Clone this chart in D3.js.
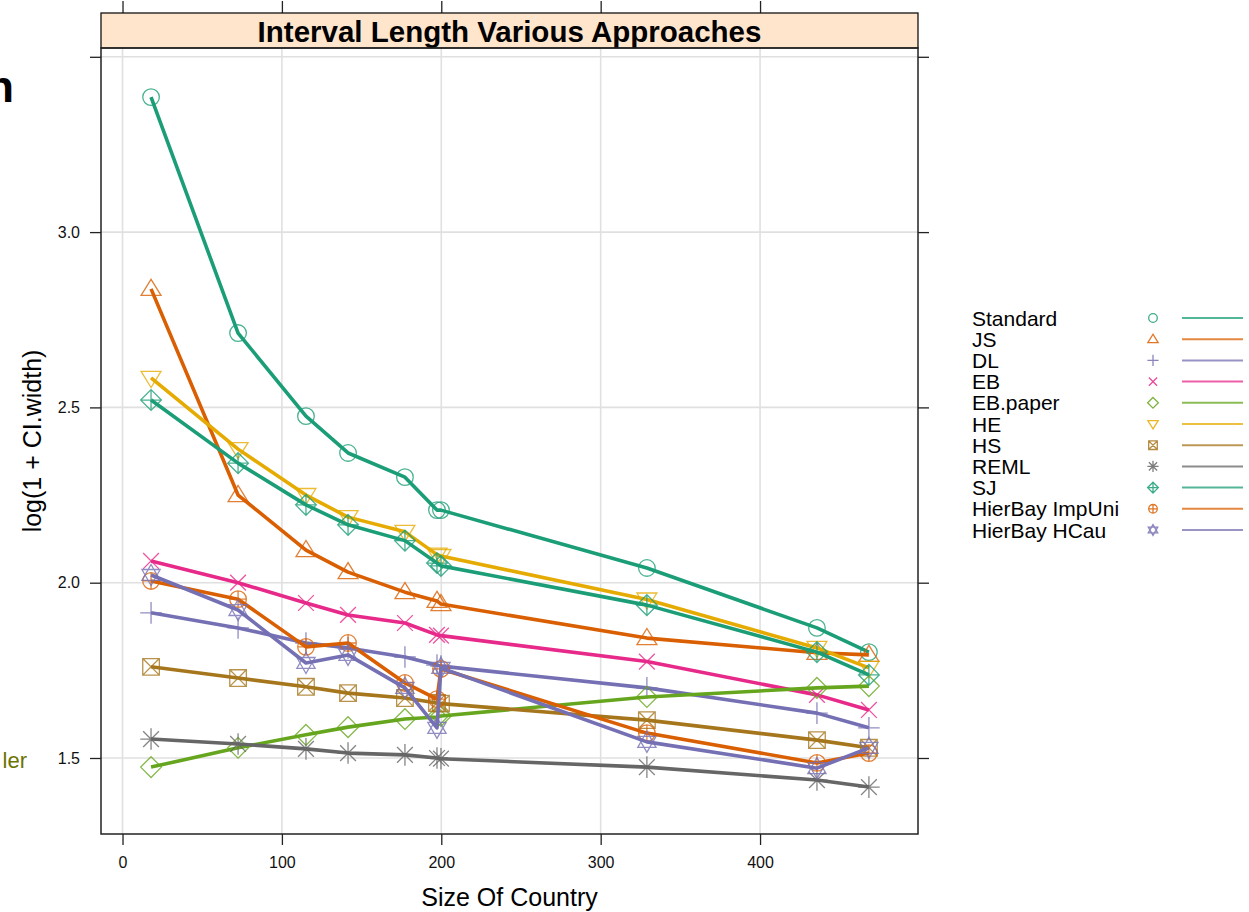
<!DOCTYPE html>
<html>
<head>
<meta charset="utf-8">
<script src="https://cdn.jsdelivr.net/npm/d3@7"></script>
<style>
  html, body { margin: 0; padding: 0; background: #ffffff; overflow: hidden; }
  svg { display: block; font-family: "Liberation Sans", Arial, Helvetica, sans-serif; }
</style>
</head>
<body>
<svg id="chart" width="1249" height="912"></svg>
<script>
// Country sizes (x) and interval lengths per method (y)
const countrySize = [17.9, 72.5, 115.1, 141.5, 177.2, 197.3, 199.8, 329.0, 435.7, 468.3];

const seriesNames = ["Standard", "JS", "DL", "EB", "EB.paper", "HE", "HS", "REML", "SJ", "HierBay ImpUni", "HierBay HCau"];

const standard  = [3.385, 2.712, 2.475, 2.370, 2.301, 2.207, 2.207, 2.042, 1.871, 1.802];
const js        = [2.838, 2.250, 2.093, 2.030, 1.973, 1.948, 1.939, 1.842, 1.800, 1.794];
const dl        = [1.914, 1.871, 1.828, 1.814, 1.788, 1.765, 1.762, 1.700, 1.628, 1.586];
const eb        = [2.062, 2.000, 1.942, 1.908, 1.885, 1.851, 1.849, 1.775, 1.680, 1.637];
const ebPaper   = [1.474, 1.529, 1.566, 1.588, 1.611, 1.617, 1.620, 1.674, 1.700, 1.705];
const he        = [2.584, 2.381, 2.250, 2.187, 2.145, 2.080, 2.076, 1.952, 1.814, 1.757];
const hs        = [1.760, 1.728, 1.703, 1.685, 1.671, 1.657, 1.655, 1.608, 1.551, 1.529];
const reml      = [1.554, 1.540, 1.526, 1.514, 1.509, 1.500, 1.498, 1.474, 1.437, 1.417];
const sj        = [2.521, 2.341, 2.222, 2.165, 2.120, 2.056, 2.048, 1.936, 1.802, 1.737];
const hbImpUni  = [2.005, 1.953, 1.817, 1.828, 1.714, 1.668, 1.754, 1.571, 1.486, 1.514];
const hbHCau    = [2.022, 1.922, 1.771, 1.794, 1.700, 1.586, 1.757, 1.546, 1.471, 1.529];

const seriesValues = [standard, js, dl, eb, ebPaper, he, hs, reml, sj, hbImpUni, hbHCau];
const seriesSymbols = ["circle", "triUp", "plus", "cross", "diamond", "triDown", "boxX", "asterisk", "diamondPlus", "circlePlus", "star"];
const seriesColors = ["#1B9E77", "#D95F02", "#7570B3", "#E7298A", "#66A61E", "#E6AB02", "#A6761D", "#666666", "#1B9E77", "#D95F02", "#7570B3"];

const xTicks = [0, 100, 200, 300, 400];
const yTicks = [1.5, 2.0, 2.5, 3.0, 3.5];
const yTickLabels = ["1.5", "2.0", "2.5", "3.0", ""];

const titleText = "Interval Length Various Approaches";
const xTitle = "Size Of Country";
const yTitle = "log(1 + CI.width)";

// ---- layout ----
const panel = { left: 101, right: 918, stripTop: 13, top: 48, bottom: 834 };

const x = d3.scaleLinear().domain([-13.5, 499.1]).range([panel.left, panel.right]);
const y = d3.scaleLinear().domain([1.2832, 3.5251]).range([panel.bottom, panel.top]);

const svg = d3.select("#chart");

// fragments of surrounding page text
svg.append("text").attr("x", 14).attr("y", 102).attr("text-anchor", "end")
  .attr("font-size", 45).attr("font-weight", "bold").attr("fill", "#000").text("n");
svg.append("text").attr("x", 27).attr("y", 768).attr("text-anchor", "end")
  .attr("font-size", 22).attr("fill", "#6b7400").text("ler");

// ---- gridlines ----
const grid = svg.append("g").attr("stroke", "#e0e0e0").attr("stroke-width", 1.6);
grid.selectAll("line.v").data(xTicks).join("line")
  .attr("x1", d => x(d)).attr("x2", d => x(d))
  .attr("y1", panel.top).attr("y2", panel.bottom);
grid.selectAll("line.h").data(yTicks).join("line")
  .attr("x1", panel.left).attr("x2", panel.right)
  .attr("y1", d => y(d)).attr("y2", d => y(d));

// ---- axes ----
const axisStyle = g => {
  g.select(".domain").remove();
  g.selectAll(".tick line").attr("stroke", "#222").attr("stroke-width", 1.3);
  g.selectAll(".tick text").attr("fill", "#111").attr("font-size", 16)
    .attr("font-family", "'Liberation Sans', Arial, sans-serif");
};

svg.append("g").attr("transform", `translate(0,${panel.bottom})`)
  .call(d3.axisBottom(x).tickValues(xTicks).tickSize(11).tickPadding(12).tickFormat(d3.format("d")))
  .call(axisStyle);

svg.append("g").attr("transform", `translate(0,${panel.stripTop})`)
  .call(d3.axisTop(x).tickValues(xTicks).tickSize(12).tickFormat(""))
  .call(axisStyle);

svg.append("g").attr("transform", `translate(${panel.left},0)`)
  .call(d3.axisLeft(y).tickValues(yTicks).tickSize(11).tickPadding(10)
    .tickFormat((d, i) => yTickLabels[i]))
  .call(axisStyle);

svg.append("g").attr("transform", `translate(${panel.right},0)`)
  .call(d3.axisRight(y).tickValues(yTicks).tickSize(11).tickFormat(""))
  .call(axisStyle);

// ---- symbols ----
function symbolPath(type, s) {
  const p = d3.path();
  const tri = (dir) => {
    const h = s * 1.05;
    p.moveTo(0, -dir * h * 1.1);
    p.lineTo(-s * 1.2, dir * h * 0.75);
    p.lineTo(s * 1.2, dir * h * 0.75);
    p.closePath();
  };
  const diamond = () => {
    const d = s * 1.25;
    p.moveTo(0, -d); p.lineTo(d, 0); p.lineTo(0, d); p.lineTo(-d, 0); p.closePath();
  };
  const plus = (k) => { p.moveTo(-k, 0); p.lineTo(k, 0); p.moveTo(0, -k); p.lineTo(0, k); };
  const cross = (k) => { p.moveTo(-k, -k); p.lineTo(k, k); p.moveTo(-k, k); p.lineTo(k, -k); };
  switch (type) {
    case "circle": p.moveTo(s, 0); p.arc(0, 0, s, 0, 2 * Math.PI); break;
    case "triUp": tri(1); break;
    case "triDown": tri(-1); break;
    case "plus": plus(s * 1.3); break;
    case "cross": cross(s * 0.95); break;
    case "diamond": diamond(); break;
    case "boxX": p.rect(-s, -s, 2 * s, 2 * s); cross(s); break;
    case "asterisk": plus(s * 1.3); cross(s * 0.95); break;
    case "diamondPlus": diamond(); plus(s * 1.25); break;
    case "circlePlus": p.moveTo(s, 0); p.arc(0, 0, s, 0, 2 * Math.PI); plus(s); break;
    case "star": {
      const h = s * 1.1;
      p.moveTo(0, -h * 1.15); p.lineTo(-s * 1.1, h * 0.6); p.lineTo(s * 1.1, h * 0.6); p.closePath();
      p.moveTo(0, h * 1.15); p.lineTo(-s * 1.1, -h * 0.6); p.lineTo(s * 1.1, -h * 0.6); p.closePath();
      break;
    }
  }
  return p.toString();
}

// ---- series: points then connecting line ----
const plotG = svg.append("g");
const line = d3.line().x(d => x(d[0])).y(d => y(d[1]));

seriesNames.forEach((name, i) => {
  const pts = countrySize.map((c, j) => [c, seriesValues[i][j]]);
  const g = plotG.append("g");
  g.selectAll("path.pt").data(pts).join("path")
    .attr("transform", d => `translate(${x(d[0])},${y(d[1])})`)
    .attr("d", symbolPath(seriesSymbols[i], 8.3))
    .attr("fill", "none")
    .attr("stroke", seriesColors[i])
    .attr("stroke-opacity", 0.8)
    .attr("stroke-width", 1.3);
  g.append("path").datum(pts)
    .attr("d", line)
    .attr("fill", "none")
    .attr("stroke", seriesColors[i])
    .attr("stroke-width", 3.6)
    .attr("stroke-linejoin", "round");
});

// ---- panel frame and strip ----
svg.append("rect")
  .attr("x", panel.left).attr("y", panel.stripTop)
  .attr("width", panel.right - panel.left).attr("height", panel.top - panel.stripTop)
  .attr("fill", "#FFE5CC").attr("stroke", "#111").attr("stroke-width", 1.3);
svg.append("text")
  .attr("x", (panel.left + panel.right) / 2).attr("y", 42)
  .attr("text-anchor", "middle").attr("font-size", 29.5).attr("font-weight", "bold")
  .attr("fill", "#000").text(titleText);
svg.append("rect")
  .attr("x", panel.left).attr("y", panel.top)
  .attr("width", panel.right - panel.left).attr("height", panel.bottom - panel.top)
  .attr("fill", "none").attr("stroke", "#222").attr("stroke-width", 1.5);

// ---- axis titles ----
svg.append("text")
  .attr("x", (panel.left + panel.right) / 2).attr("y", 906)
  .attr("text-anchor", "middle").attr("font-size", 25).attr("fill", "#000").text(xTitle);
svg.append("text")
  .attr("transform", `translate(41,${(panel.top + panel.bottom) / 2}) rotate(-90)`)
  .attr("text-anchor", "middle").attr("font-size", 25).attr("fill", "#000").text(yTitle);

// ---- legend ----
const legend = svg.append("g");
const rowY = d3.scaleLinear().domain([0, seriesNames.length - 1]).range([318, 530]);
seriesNames.forEach((name, i) => {
  const cy = rowY(i);
  legend.append("text").attr("x", 972).attr("y", cy + 7.5)
    .attr("font-size", 21).attr("fill", "#000").text(name);
  legend.append("path")
    .attr("transform", `translate(1153,${cy})`)
    .attr("d", symbolPath(seriesSymbols[i], 4.3))
    .attr("fill", "none").attr("stroke", seriesColors[i])
    .attr("stroke-opacity", 0.85).attr("stroke-width", 1.3);
  legend.append("line")
    .attr("x1", 1182).attr("x2", 1243).attr("y1", cy).attr("y2", cy)
    .attr("stroke", seriesColors[i]).attr("stroke-opacity", 0.75).attr("stroke-width", 2);
});
</script>
</body>
</html>
